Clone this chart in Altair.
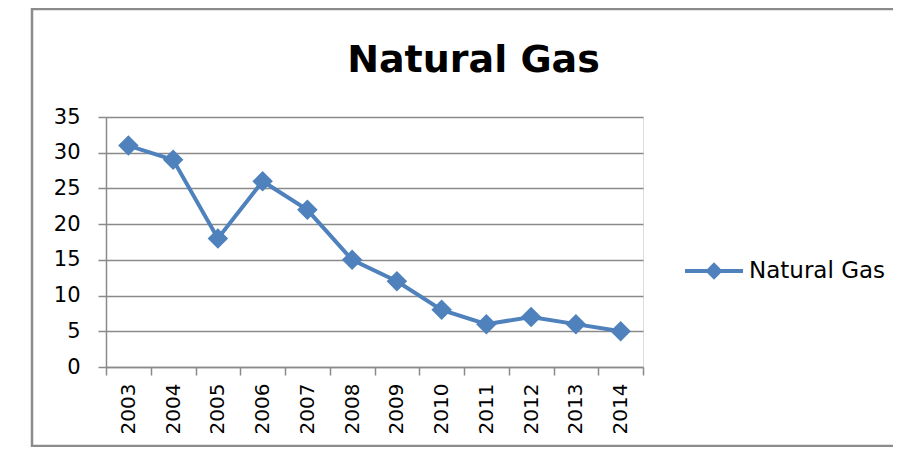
import altair as alt
import pandas as pd

years = ["2003", "2004", "2005", "2006", "2007", "2008", "2009", "2010", "2011", "2012", "2013", "2014"]
values = [31, 29, 18, 26, 22, 15, 12, 8, 6, 7, 6, 5]
series = ["Natural Gas"] * len(years)

df = pd.DataFrame({"year": years, "value": values, "series": series})

BLUE = "#4F81BD"
GRAY = "#8a8a8a"
FONT = "DejaVu Sans"

legend_path = "M-1,-0.07L1,-0.07L1,0.07L-1,0.07Z M-0.3,0L0,-0.3L0.3,0L0,0.3Z"

base = alt.Chart(df)

line = base.mark_line(
    strokeWidth=4,
    point=alt.OverlayMarkDef(shape="diamond", size=420, filled=True, color=BLUE, opacity=1),
).encode(
    x=alt.X(
        "year:O",
        sort=years,
        scale=alt.Scale(type="band", paddingInner=0, paddingOuter=0),
        axis=alt.Axis(
            title=None,
            labelAngle=270,
            labelFont=FONT,
            labelFontSize=20,
            labelColor="#000000",
            labelPadding=8,
            tickBand="extent",
            tickSize=8,
            tickColor=GRAY,
            tickWidth=1.5,
            domainColor=GRAY,
            domainWidth=1.5,
            grid=False,
        ),
    ),
    y=alt.Y(
        "value:Q",
        scale=alt.Scale(domain=[0, 35], nice=False),
        axis=alt.Axis(
            title=None,
            values=[0, 5, 10, 15, 20, 25, 30, 35],
            labelFont=FONT,
            labelFontSize=21,
            labelColor="#000000",
            labelPadding=18,
            tickSize=8,
            tickColor=GRAY,
            tickWidth=1.5,
            domainColor=GRAY,
            domainWidth=1.5,
            grid=True,
            gridColor=GRAY,
            gridWidth=1.5,
        ),
    ),
    color=alt.Color(
        "series:N",
        scale=alt.Scale(range=[BLUE]),
        legend=alt.Legend(
            title=None,
            orient="none",
            legendX=579,
            legendY=125,
            symbolType=legend_path,
            symbolSize=3364,
            symbolStrokeWidth=0,
            symbolFillColor=BLUE,
            labelFont=FONT,
            labelFontSize=23,
            labelColor="#000000",
            labelOffset=6,
        ),
    ),
)

border_df = pd.DataFrame({"k": [0]})
border = alt.Chart(border_df).mark_rect(
    filled=False, stroke="#8c8c8c", strokeWidth=2.5
).encode(
    x=alt.value(-74),
    x2=alt.value(810),
    y=alt.value(-108),
    y2=alt.value(329),
)

chart = alt.layer(border, line).properties(
    width=537,
    height=250,
    title=alt.TitleParams(
        "Natural Gas",
        font=FONT,
        fontSize=38,
        fontWeight="bold",
        color="#000000",
        anchor="middle",
        baseline="alphabetic",
        dx=99,
        offset=-102,
    ),
    autosize=alt.AutoSizeParams(type="none"),
    padding={"left": 98, "top": 109, "right": 250, "bottom": 80},
).configure_view(stroke=None).configure(background="#ffffff")

chart.save("out.html", embed_options={"renderer": "svg", "actions": False})
